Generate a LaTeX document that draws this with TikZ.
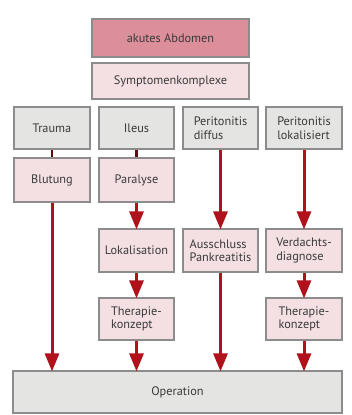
\documentclass[tikz,border=0pt]{standalone}
\usepackage{fontspec}
\setmainfont{PT Sans}
\usetikzlibrary{arrows.meta}
\definecolor{bordergray}{HTML}{8C8C8C}
\definecolor{grayfill}{HTML}{E4E4E2}
\definecolor{pinkfill}{HTML}{F4E0E3}
\definecolor{topfill}{HTML}{DC8E9B}
\definecolor{arrowred}{HTML}{B0121C}
\definecolor{txt}{HTML}{3A3A3A}
\tikzset{
  box/.style={draw=bordergray, line width=1.2pt, text=txt, inner sep=0pt, align=left,
    font=\fontsize{12.3}{13.5}\selectfont},
  gbox/.style={box, fill=grayfill},
  pbox/.style={box, fill=pinkfill},
  tbox/.style={box, fill=topfill},
  flow/.style={draw=arrowred, line width=3pt, -{Triangle[length=18pt,width=14pt]}, shorten >=-1pt},
  tick/.style={draw=arrowred!55!black, line width=2.2pt},
}
\begin{document}
\begin{tikzpicture}[x=1pt,y=-1pt]
\fill[white] (0,0) rectangle (351,415);
\useasboundingbox (0,0) rectangle (351,415);
\node[tbox, minimum width=157pt, minimum height=38pt] (abd) at (170.5,38) {akutes Abdomen};
\node[pbox, minimum width=157pt, minimum height=36pt] (sym) at (170.5,81) {Symptomenkomplexe};
\node[gbox, minimum width=76pt, minimum height=42pt] (trauma) at (52,128) {Trauma};
\node[gbox, minimum width=75pt, minimum height=42pt] (ileus) at (136.5,128) {Ileus};
\node[gbox, minimum width=75pt, minimum height=42pt] (pdiff) at (220.5,128) {Peritonitis\\diffus};
\node[gbox, minimum width=76pt, minimum height=42pt] (plok) at (304,128) {Peritonitis\\lokalisiert};
\node[pbox, minimum width=76pt, minimum height=44pt] (blut) at (52,180) {Blutung};
\node[pbox, minimum width=75pt, minimum height=44pt] (para) at (136.5,180) {Paralyse};
\node[pbox, minimum width=75pt, minimum height=43pt] (lok) at (136.5,250.5) {Lokalisation};
\node[pbox, minimum width=75pt, minimum height=43pt] (aus) at (220.5,250.5) {Ausschluss\\Pankreatitis};
\node[pbox, minimum width=76pt, minimum height=43pt] (verd) at (304,250.5) {Verdachts-\\diagnose};
\node[pbox, minimum width=75pt, minimum height=42pt] (ther1) at (136.5,319) {Therapie-\\konzept};
\node[pbox, minimum width=76pt, minimum height=42pt] (ther2) at (304,319) {Therapie-\\konzept};
\node[gbox, minimum width=329pt, minimum height=42pt] (op) at (177.5,392) {Operation};
\draw[tick] (trauma.south) -- (blut.north);
\draw[tick] (ileus.south) -- (para.north);
\draw[flow] (blut.south) -- (blut.south |- op.north);
\draw[flow] (para.south) -- (lok.north);
\draw[flow] (lok.south) -- (ther1.north);
\draw[flow] (ther1.south) -- (ther1.south |- op.north);
\draw[flow] (pdiff.south) -- (aus.north);
\draw[flow] (aus.south) -- (aus.south |- op.north);
\draw[flow] (plok.south) -- (verd.north);
\draw[flow] (verd.south) -- (ther2.north);
\draw[flow] (ther2.south) -- (ther2.south |- op.north);
\end{tikzpicture}
\end{document}
